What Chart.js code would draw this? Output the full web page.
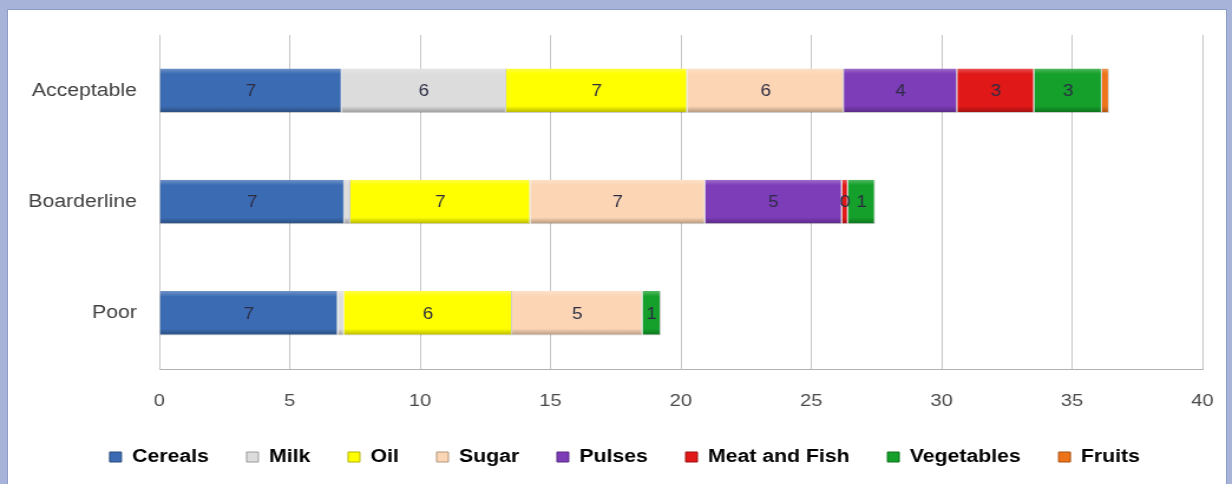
<!DOCTYPE html>
<html><head><meta charset="utf-8">
<script src="https://cdn.jsdelivr.net/npm/chart.js@4.4.1/dist/chart.umd.min.js"></script>
<style>
html,body{margin:0;padding:0;background:#a7b3d8;width:1232px;height:484px;overflow:hidden;}
#panel{position:absolute;left:7px;top:9px;width:1218px;height:480px;background:#fff;border:1px solid #8e9cc8;}
#wrap{position:absolute;left:0;top:0;width:1044px;height:484px;transform:scaleX(1.18);transform-origin:0 0;}
#c{width:1044px;height:484px;display:block;}
</style></head><body>
<div id="panel"></div>
<div id="wrap"><canvas id="c" width="1044" height="484"></canvas></div>
<script>
const categories = ["Acceptable", "Boarderline", "Poor"];
const seriesNames = ["Cereals", "Milk", "Oil", "Sugar", "Pulses", "Meat and Fish", "Vegetables", "Fruits"];
const cereals    = [7.0, 7.1, 6.85];
const milk       = [6.3, 0.23, 0.23];
const oil        = [6.95, 6.9, 6.45];
const sugar      = [6.0, 6.7, 5.0];
const pulses     = [4.35, 5.25, 0];
const meatFish   = [2.95, 0.23, 0];
const vegetables = [2.6, 1.04, 0.7];
const fruits     = [0.27, 0, 0];
// which value labels appear in the reference (per series, per category)
const showLabels = [
  [true, true, true],
  [true, false, false],
  [true, true, true],
  [true, true, true],
  [true, true, false],
  [true, true, false],
  [true, true, true],
  [false, false, false]
];
const xTicks = [0, 5, 10, 15, 20, 25, 30, 35, 40];
const colors = ["#3b6cb3", "#dcdcdc", "#ffff00", "#fcd5b4", "#7d3cb8", "#e01818", "#14a02a", "#ee7318"];
const seriesValues = [cereals, milk, oil, sugar, pulses, meatFish, vegetables, fruits];

const FONT = "'Liberation Sans', Arial, sans-serif";

function shade(hex, f) {
  const n = parseInt(hex.slice(1), 16);
  let r = (n >> 16) & 255, g = (n >> 8) & 255, b = n & 255;
  const t = f < 0 ? 0 : 255, p = Math.abs(f);
  r = Math.round((t - r) * p + r); g = Math.round((t - g) * p + g); b = Math.round((t - b) * p + b);
  return "rgb(" + r + "," + g + "," + b + ")";
}

function barFill(i) {
  return (ctx) => {
    const chart = ctx.chart;
    const base = colors[i];
    if (!chart.chartArea || !chart.scales.y || ctx.dataIndex === undefined) return base;
    const yc = chart.scales.y.getPixelForValue(ctx.dataIndex);
    const h = 22;
    const g = chart.ctx.createLinearGradient(0, yc - h, 0, yc + h);
    g.addColorStop(0, shade(base, 0.25));
    g.addColorStop(0.12, base);
    g.addColorStop(0.85, base);
    g.addColorStop(1, shade(base, -0.3));
    return g;
  };
}

const datasets = seriesNames.map((n, i) => ({
  label: n,
  data: seriesValues[i],
  backgroundColor: barFill(i),
  borderColor: "rgba(0,0,0,0.2)",
  borderWidth: {top:0,bottom:1,left:0,right:1},
  borderSkipped: false,
  barPercentage: 0.8,
  categoryPercentage: 0.5
}));

const labelPlugin = {
  id: "vals",
  afterDatasetsDraw(chart) {
    const ctx = chart.ctx;
    ctx.save();
    ctx.font = "16px " + FONT;
    ctx.fillStyle = "#2c2c44";
    ctx.textAlign = "center";
    ctx.textBaseline = "middle";
    chart.data.datasets.forEach((ds, i) => {
      const meta = chart.getDatasetMeta(i);
      meta.data.forEach((bar, j) => {
        if (!showLabels[i][j]) return;
        const v = ds.data[j];
        const p = bar.getProps(["x", "base", "y"], true);
        ctx.fillText(String(Math.round(v)), (p.x + p.base) / 2, p.y + 1);
      });
    });
    ctx.restore();
  }
};

const legendShift = {
  id: "legendShift",
  afterLayout(chart) {
    const lg = chart.legend;
    if (lg) { lg.left += 20; lg.right += 20; }
  }
};

new Chart(document.getElementById("c"), {
  type: "bar",
  data: {
    labels: categories,
    datasets: datasets
  },
  plugins: [labelPlugin, legendShift],
  options: {
    indexAxis: "y",
    responsive: false,
    animation: false,
    layout: { padding: { left: 0, right: 25, top: 35, bottom: 8 } },
    scales: {
      x: {
        stacked: true, min: 0, max: 40,
        afterBuildTicks: s => { s.ticks = xTicks.map(v => ({ value: v })); },
        grid: { color: "#c6c6c6", drawTicks: false, lineWidth: 1 },
        border: { display: true, color: "#b0b0b0" },
        ticks: { padding: 22, color: "#4a4a4a", font: { size: 17, family: FONT } },
        afterFit: s => { s.height = 47; s.paddingRight = 0; s.paddingLeft = 0; }
      },
      y: {
        stacked: true,
        grid: { display: false, drawTicks: false },
        border: { display: true, color: "#c6c6c6" },
        ticks: { padding: 19, color: "#404040", font: { size: 18, family: FONT } },
        afterFit: s => { s.width = 135; }
      }
    },
    plugins: {
      legend: {
        position: "bottom",
        labels: {
          boxWidth: 10, boxHeight: 10, padding: 32,
          color: "#404040",
          font: { size: 18, weight: "bold", family: FONT },
          generateLabels: (chart) => chart.data.datasets.map((ds, i) => ({
            text: ds.label, fillStyle: colors[i], strokeStyle: shade(colors[i], -0.3),
            lineWidth: 1, hidden: false, datasetIndex: i
          }))
        }
      },
      tooltip: { enabled: false }
    }
  }
});
</script>
</body></html>
